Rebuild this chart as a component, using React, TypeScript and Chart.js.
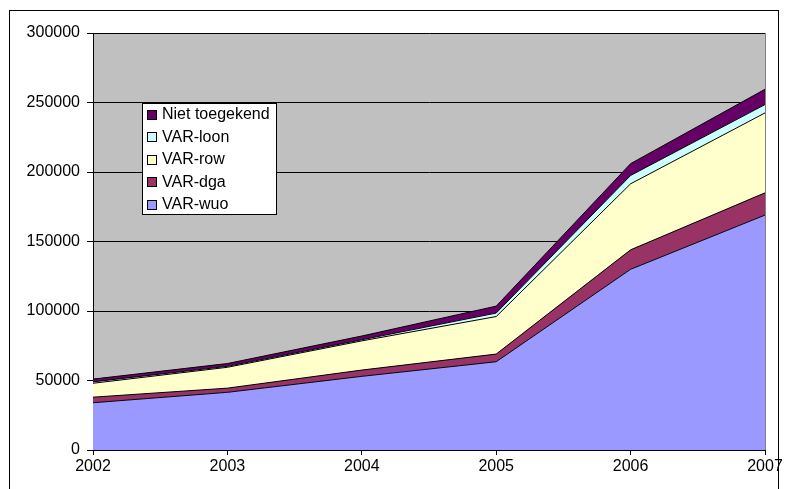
import React, { useEffect, useRef } from "react";
import { Chart, registerables } from "chart.js";

Chart.register(...registerables);

const years = ["2002", "2003", "2004", "2005", "2006", "2007"];
const varWuo = [34000, 41500, 53000, 63500, 130000, 169000];
const varDga = [4000, 3000, 4500, 5500, 14000, 16000];
const varRow = [10000, 15000, 21000, 27000, 47500, 57500];
const varLoon = [1000, 700, 800, 2500, 6000, 6000];
const nietToegekend = [2000, 2000, 2700, 5000, 8500, 11000];
const yTicks = [0, 50000, 100000, 150000, 200000, 250000, 300000];

const FONT = "Arial, 'Liberation Sans', sans-serif";

const framePlugin = {
  id: "frame",
  beforeDraw(chart: any) {
    const { ctx, chartArea } = chart;
    ctx.save();
    ctx.fillStyle = "#ffffff";
    ctx.fillRect(0, 0, chart.width, chart.height);
    ctx.strokeStyle = "#000000";
    ctx.lineWidth = 1;
    ctx.strokeRect(9.5, 10.5, 769, 520);
    ctx.fillStyle = "#C0C0C0";
    ctx.fillRect(chartArea.left, chartArea.top, chartArea.right - chartArea.left, chartArea.bottom - chartArea.top);
    ctx.strokeStyle = "#808080";
    ctx.beginPath();
    ctx.moveTo(Math.round(chartArea.right) + 0.5, chartArea.top);
    ctx.lineTo(Math.round(chartArea.right) + 0.5, chartArea.bottom);
    ctx.stroke();
    ctx.restore();
  },
  afterDraw(chart: any) {
    const { ctx } = chart;
    const ds = chart.data.datasets.slice().reverse();
    const bx = 142.5, by = 103.5, bw = 134, bh = 111;
    ctx.save();
    ctx.fillStyle = "#ffffff";
    ctx.fillRect(bx, by, bw, bh);
    ctx.strokeStyle = "#000000";
    ctx.lineWidth = 1;
    ctx.strokeRect(bx, by, bw, bh);
    ctx.font = `16px ${FONT}`;
    ctx.textBaseline = "middle";
    ds.forEach((d: any, i: number) => {
      const cy = 114 + i * 22.5;
      ctx.fillStyle = d.backgroundColor;
      ctx.fillRect(147.5, Math.round(cy - 4.5) + 0.5, 9, 9);
      ctx.strokeStyle = "#000000";
      ctx.strokeRect(147.5, Math.round(cy - 4.5) + 0.5, 9, 9);
      ctx.fillStyle = "#000000";
      ctx.fillText(d.label, 162, cy + 1);
    });
    ctx.restore();
  },
};

export default function App() {
  const ref = useRef<HTMLCanvasElement>(null);
  useEffect(() => {
    if (!ref.current) return;
    const mk = (label: string, data: number[], color: string, fill: any) => ({
      label,
      data,
      backgroundColor: color,
      borderColor: "#000000",
      borderWidth: 1,
      pointRadius: 0,
      tension: 0,
      fill,
    });
    const chart = new Chart(ref.current, {
      type: "line",
      data: {
        labels: years,
        datasets: [
          mk("VAR-wuo", varWuo, "#9999FF", "origin"),
          mk("VAR-dga", varDga, "#993366", "-1"),
          mk("VAR-row", varRow, "#FFFFCC", "-1"),
          mk("VAR-loon", varLoon, "#CCFFFF", "-1"),
          mk("Niet toegekend", nietToegekend, "#660066", "-1"),
        ],
      },
      options: {
        animation: false,
        responsive: false,
        layout: { padding: { left: 0, right: 24, top: 33, bottom: 0 } },
        plugins: { legend: { display: false }, tooltip: { enabled: false } },
        scales: {
          x: {
            offset: false,
            grid: { drawOnChartArea: false, color: "#000000", tickLength: 5 },
            border: { color: "#000000" },
            ticks: { color: "#000000", font: { family: FONT, size: 16 }, padding: 2, maxRotation: 0 },
            afterFit: (s: any) => { s.height = 39; },
          },
          y: {
            stacked: true,
            min: 0,
            max: 300000,
            afterBuildTicks: (s: any) => { s.ticks = yTicks.map((v) => ({ value: v })); },
            grid: { color: "#000000", tickLength: 6 },
            border: { color: "#000000" },
            ticks: { color: "#000000", font: { family: FONT, size: 16 }, padding: 7, callback: (v: any) => String(v) },
            afterFit: (s: any) => { s.width = 93; },
          },
        },
      },
      plugins: [framePlugin],
    });
    return () => chart.destroy();
  }, []);
  return (
    <div style={{ position: "fixed", left: 0, top: 0, width: 789, height: 489 }}>
      <canvas ref={ref} width={789} height={489} />
    </div>
  );
}
